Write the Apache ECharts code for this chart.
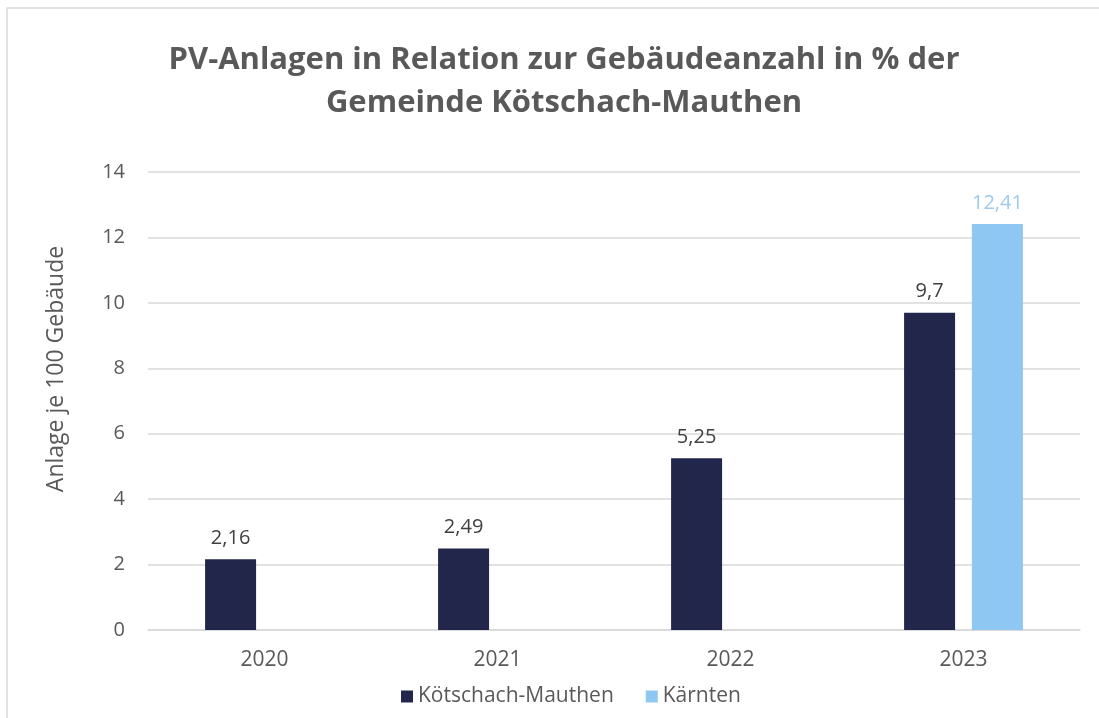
<!DOCTYPE html>
<html lang="de">
<head>
<meta charset="UTF-8" />
<title>PV-Anlagen</title>
<script src="https://cdn.jsdelivr.net/npm/echarts@6/dist/echarts.min.js"></script>
<style>
  html, body { margin: 0; padding: 0; width: 100%; height: 100%; background: #fff; overflow: hidden; }
  #main { width: 1099px; height: 718px; }
</style>
</head>
<body>
<div id="main"></div>
<script>
const years = ["2020", "2021", "2022", "2023"]
const koetschach = [2.16, 2.49, 5.25, 9.7]
const kaernten = [null, null, null, 12.41]
const yTicks = [0, 2, 4, 6, 8, 10, 12, 14]

const font = "'Open Sans', 'Noto Sans', sans-serif"
const chart = echarts.init(document.getElementById("main"))

const fmt = (p) => String(p.value).replace(".", ",")

chart.setOption({
    textStyle: { fontFamily: font },
    graphic: [
        // outer frame, only top and left edges are visible in the picture
        {
            type: "polyline",
            shape: { points: [[7, 718], [7, 8], [1099, 8]] },
            style: { fill: "none", stroke: "#d9d9d9", lineWidth: 1.5 },
            silent: true,
        },
    ],
    title: {
        text: "PV-Anlagen in Relation zur Gebäudeanzahl in % der\nGemeinde Kötschach-Mauthen",
        left: 559,
        textAlign: "center",
        top: 34,
        textStyle: { fontFamily: font, fontSize: 31, fontWeight: "bold", color: "#595959", lineHeight: 43 },
    },
    legend: {
        bottom: 6,
        left: 396,
        itemWidth: 12,
        itemHeight: 12,
        itemGap: 32,
        icon: "rect",
        textStyle: { fontFamily: font, fontSize: 21, color: "#595959" },
        data: ["Kötschach-Mauthen", "Kärnten"],
    },
    grid: { left: 148, right: 19, top: 172, bottom: 88 },
    xAxis: {
        type: "category",
        data: years,
        axisLine: { lineStyle: { color: "#d9d9d9", width: 1.5 } },
        axisTick: { show: false },
        axisLabel: { fontFamily: font, fontSize: 21, color: "#595959", margin: 20 },
    },
    yAxis: {
        type: "value",
        min: yTicks[0],
        max: yTicks[yTicks.length - 1],
        interval: 2,
        name: "Anlage je 100 Gebäude",
        nameLocation: "middle",
        nameGap: 80,
        nameTextStyle: { fontFamily: font, fontSize: 23, color: "#595959", padding: [0, 0, 0, 64] },
        axisLine: { show: false },
        axisTick: { show: false },
        axisLabel: { fontFamily: font, fontSize: 20, color: "#595959", margin: 23 },
        splitLine: { lineStyle: { color: "#d9d9d9", width: 1.5 } },
    },
    series: [
        {
            name: "Kötschach-Mauthen",
            type: "bar",
            data: koetschach,
            barWidth: 51,
            barGap: "33%",
            itemStyle: { color: "#21264a" },
            label: { show: true, position: "top", distance: 11, formatter: fmt, fontFamily: font, fontSize: 20, color: "#404040" },
        },
        {
            name: "Kärnten",
            type: "bar",
            data: kaernten,
            barWidth: 51,
            itemStyle: { color: "#8ec8f2" },
            label: { show: true, position: "top", distance: 11, formatter: fmt, fontFamily: font, fontSize: 20, color: "#9ccbef" },
        },
    ],
})
</script>
</body>
</html>
